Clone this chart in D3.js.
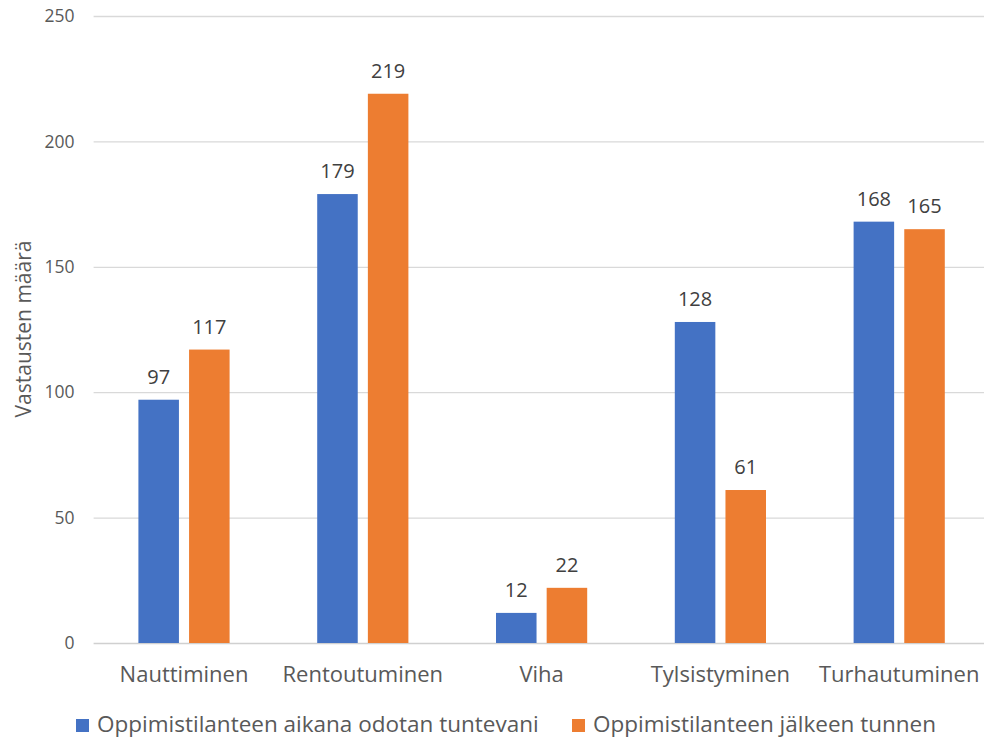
<!DOCTYPE html>
<html><head><meta charset="utf-8">
<script src="https://cdn.jsdelivr.net/npm/d3@7/dist/d3.min.js"></script>
<style>body{margin:0;background:#fff;} text{font-family:"Open Sans",sans-serif;}</style>
</head><body>
<svg id="c" width="984" height="740"></svg>
<script>
const categories = ["Nauttiminen","Rentoutuminen","Viha","Tylsistyminen","Turhautuminen"];
const seriesNames = ["Oppimistilanteen aikana odotan tuntevani","Oppimistilanteen jälkeen tunnen"];
const seriesA = [97,179,12,128,168];
const seriesB = [117,219,22,61,165];
const yTicks = [0,50,100,150,200,250];
const colors = ["#4472C4","#ED7D31"];

const svg = d3.select("#c");
const mLeft = 94.6, mRight = 988.6, mTop = 16, mBottom = 643;
const x0 = d3.scaleBand().domain(categories).range([mLeft,mRight]).paddingInner(0.49).paddingOuter(0.245);
const x1 = d3.scaleBand().domain([0,1]).range([0,x0.bandwidth()]).paddingInner(0.2);
const y = d3.scaleLinear().domain([0,250]).range([mBottom,mTop]);

// gridlines
const yAxis = d3.axisLeft(y).tickValues(yTicks).tickSize(-(mRight-mLeft)).tickPadding(18);
const gy = svg.append("g").attr("transform",`translate(${mLeft-1},0)`).call(yAxis);
gy.select(".domain").remove();
gy.selectAll(".tick line").attr("stroke",d=>d===0?"#d0d0d0":"#d9d9d9").attr("stroke-width",1.3);
gy.selectAll(".tick text").attr("fill","#595959").style("font-size","17.5px").attr("x",-19);

const data = categories.map((c,i)=>({c, v:[seriesA[i],seriesB[i]]}));
const g = svg.append("g");
data.forEach(d=>{
  d.v.forEach((v,j)=>{
    const bx = x0(d.c)+x1(j);
    g.append("rect").attr("x",bx).attr("y",y(v)).attr("width",x1.bandwidth()).attr("height",y(0)-y(v)).attr("fill",colors[j]);
    g.append("text").attr("x",bx+x1.bandwidth()/2).attr("y",y(v)-16).attr("text-anchor","middle")
      .attr("fill","#404040").style("font-size","20px").text(v);
  });
});

// x axis labels
const xAxis = d3.axisBottom(x0).tickSize(0).tickPadding(23);
const gx = svg.append("g").attr("transform",`translate(0,${mBottom})`).call(xAxis);
gx.select(".domain").remove();
gx.selectAll(".tick text").attr("fill","#595959").style("font-size","22px");

// axis title
svg.append("text").attr("transform","translate(31,329) rotate(-90)").attr("text-anchor","middle")
  .attr("fill","#595959").style("font-size","21px").text("Vastausten määrä");

// legend
const legX = [76,572];
seriesNames.forEach((n,i)=>{
  svg.append("rect").attr("x",legX[i]).attr("y",719).attr("width",13).attr("height",13).attr("fill",colors[i]);
  svg.append("text").attr("x",legX[i]+21).attr("y",732).attr("fill","#595959").style("font-size","22.5px").text(n);
});
</script>
</body></html>
